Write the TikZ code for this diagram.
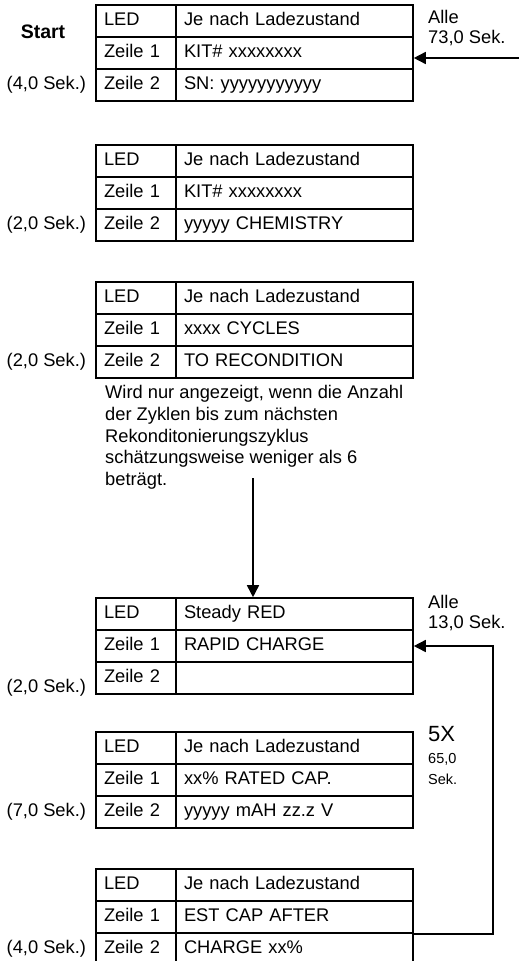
\documentclass[tikz,border=0pt]{standalone}
\usepackage{fontspec}
\setmainfont{Liberation Sans}
\usepackage{tikz}
\usetikzlibrary{arrows.meta,positioning}
\tikzstyle{keycell}  = [rectangle, minimum width=80pt, minimum height=32pt, text width=64pt, inner xsep=8pt, inner ysep=0pt, align=left, text height=13pt, text depth=4pt, draw=black, line width=1.6pt, font=\fontsize{18.3}{20}\selectfont]
\tikzstyle{valcell}  = [keycell, minimum width=237pt, text width=221pt]
\tikzstyle{dur}      = [inner sep=0pt, font=\fontsize{18.3}{20}\selectfont]
\tikzstyle{sidenote} = [inner sep=0pt, align=left, anchor=north west, font=\fontsize{18.3}{20}\selectfont]
\tikzstyle{arrow}    = [line width=1.6pt, -{Triangle[length=12pt, width=12pt]}]

\begin{document}
\begin{tikzpicture}[x=1pt, y=1pt, node distance=32pt]
            \useasboundingbox (0,0) rectangle (519,-961);
            \clip (0,0) rectangle (519,-961);
            % Start
            \node (start) [inner sep=0pt, font=\fontsize{19.5}{20}\selectfont\bfseries] at (43,-32) {Start};
            % 1. KIT / SN
            \node (snled) [keycell] at (136,-21) {LED};
            \node (snz1) [keycell, below of=snled] {Zeile 1};
            \node (snz2) [keycell, below of=snz1] {Zeile 2};
            \node (snledv) [valcell, right of=snled, xshift=126.5pt] {Je nach Ladezustand};
            \node (snz1v) [valcell, right of=snz1, xshift=126.5pt] {KIT\# xxxxxxxx};
            \node (snz2v) [valcell, right of=snz2, xshift=126.5pt] {SN: yyyyyyyyyyy};
            \node (sndur) [dur, left=9pt of snz2] {(4,0 Sek.)};
            \node (alle73) [sidenote] at (428,-10.5) {Alle\\73,0 Sek.};
            % 2. Chemie
            \node (chled) [keycell] at (136,-161) {LED};
            \node (chz1) [keycell, below of=chled] {Zeile 1};
            \node (chz2) [keycell, below of=chz1] {Zeile 2};
            \node (chledv) [valcell, right of=chled, xshift=126.5pt] {Je nach Ladezustand};
            \node (chz1v) [valcell, right of=chz1, xshift=126.5pt] {KIT\# xxxxxxxx};
            \node (chz2v) [valcell, right of=chz2, xshift=126.5pt] {yyyyy CHEMISTRY};
            \node (chdur) [dur, left=9pt of chz2] {(2,0 Sek.)};
            % 3. Zyklen bis Rekonditionierung
            \node (cyled) [keycell] at (136,-298) {LED};
            \node (cyz1) [keycell, below of=cyled] {Zeile 1};
            \node (cyz2) [keycell, below of=cyz1] {Zeile 2};
            \node (cyledv) [valcell, right of=cyled, xshift=126.5pt] {Je nach Ladezustand};
            \node (cyz1v) [valcell, right of=cyz1, xshift=126.5pt] {xxxx CYCLES};
            \node (cyz2v) [valcell, right of=cyz2, xshift=126.5pt] {TO RECONDITION};
            \node (cydur) [dur, left=9pt of cyz2] {(2,0 Sek.)};
            \node (cynote) [sidenote, font=\fontsize{18.3}{21.8}\selectfont] at (105,-385) {Wird nur angezeigt, wenn die Anzahl\\der Zyklen bis zum nächsten\\Rekonditonierungszyklus\\schätzungsweise weniger als 6\\beträgt.};
            \coordinate (cyout) at (253,-478);
            % 4. Schnellladung
            \node (rcled) [keycell] at (136,-614) {LED};
            \node (rcz1) [keycell, below of=rcled] {Zeile 1};
            \node (rcz2) [keycell, below of=rcz1] {Zeile 2};
            \node (rcledv) [valcell, right of=rcled, xshift=126.5pt] {Steady RED};
            \node (rcz1v) [valcell, right of=rcz1, xshift=126.5pt] {RAPID CHARGE};
            \node (rcz2v) [valcell, right of=rcz2, xshift=126.5pt] {};
            \node (rcdur) [dur, left=9pt of rcz2, yshift=-10pt] {(2,0 Sek.)};
            \node (alle13) [sidenote] at (428,-595.5) {Alle\\13,0 Sek.};
            % 5. Nennkapazitaet
            \node (raled) [keycell] at (136,-748) {LED};
            \node (raz1) [keycell, below of=raled] {Zeile 1};
            \node (raz2) [keycell, below of=raz1] {Zeile 2};
            \node (raledv) [valcell, right of=raled, xshift=126.5pt] {Je nach Ladezustand};
            \node (raz1v) [valcell, right of=raz1, xshift=126.5pt] {xx\% RATED CAP.};
            \node (raz2v) [valcell, right of=raz2, xshift=126.5pt] {yyyyy mAH zz.z V};
            \node (radur) [dur, left=9pt of raz2] {(7,0 Sek.)};
            \node (rep5x) [inner sep=0pt, anchor=base west, font=\fontsize{22}{22}\selectfont] at (428,-741) {5X};
            \node (rep65) [inner sep=0pt, anchor=base west, font=\fontsize{14.5}{15}\selectfont] at (428,-763) {65,0};
            \node (repsek) [inner sep=0pt, anchor=base west, font=\fontsize{14.5}{15}\selectfont] at (428,-784) {Sek.};
            % 6. Kapazitaet nach Ladung
            \node (esled) [keycell] at (136,-885) {LED};
            \node (esz1) [keycell, below of=esled] {Zeile 1};
            \node (esz2) [keycell, below of=esz1] {Zeile 2};
            \node (esledv) [valcell, right of=esled, xshift=126.5pt] {Je nach Ladezustand};
            \node (esz1v) [valcell, right of=esz1, xshift=126.5pt] {EST CAP AFTER};
            \node (esz2v) [valcell, right of=esz2, xshift=126.5pt] {CHARGE xx\%};
            \node (esdur) [dur, left=9pt of esz2] {(4,0 Sek.)};

            % Pfeile
            \coordinate (in73) at (519,-58);
            \draw [arrow] (in73) -- (in73 -| snz1v.east);
            \draw [arrow] (cyout) -- (cyout |- rcledv.north);
            \draw [arrow] (esz1v.south east) -- ++(79,0) |- (rcz1v.east);
\end{tikzpicture}
\end{document}
